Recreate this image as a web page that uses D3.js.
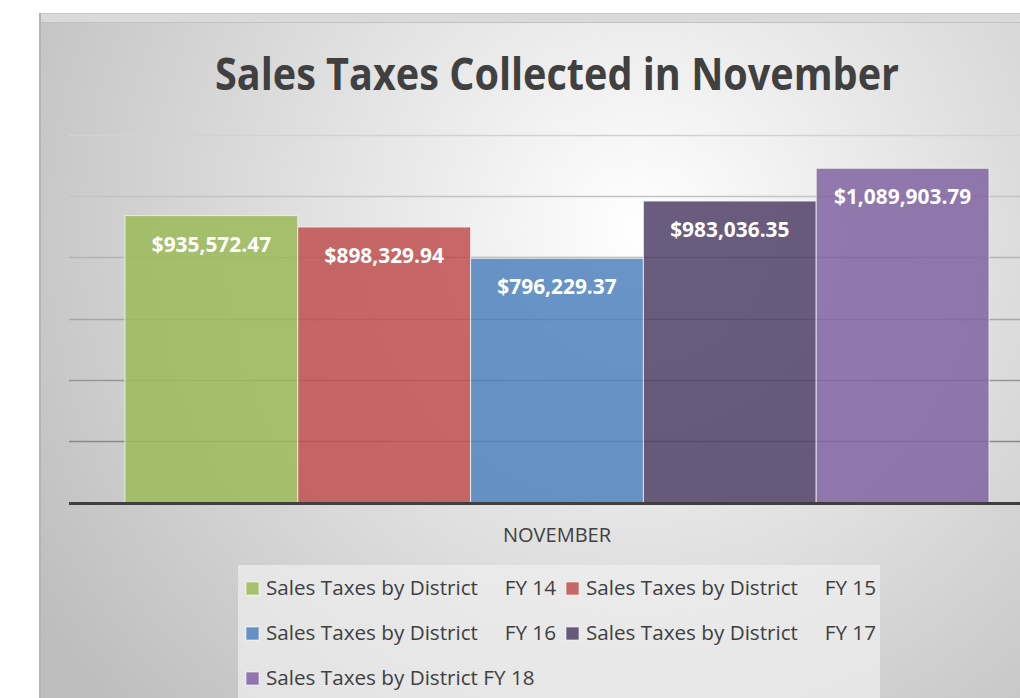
<!DOCTYPE html>
<html>
<head>
<meta charset="utf-8">
<script src="https://cdn.jsdelivr.net/npm/d3@7"></script>
<style>
  html, body { margin: 0; padding: 0; background: #fff; }
  svg { display: block; font-family: "Open Sans", "Noto Sans", sans-serif; }
</style>
</head>
<body>
<svg id="chart" width="1020" height="698"></svg>
<script>
(function() {
  // {{{ data
  var categories = ["NOVEMBER"];
  var seriesNames = [
    "Sales Taxes by District     FY 14",
    "Sales Taxes by District     FY 15",
    "Sales Taxes by District     FY 16",
    "Sales Taxes by District     FY 17",
    "Sales Taxes by District FY 18"
  ];
  var seriesValues = [935572.47, 898329.94, 796229.37, 983036.35, 1089903.79];
  var seriesColors = ["#9bbb59", "#c0504d", "#4f81bd", "#503f66", "#8064a2"];
  var yTicks = [0, 200000, 400000, 600000, 800000, 1000000, 1200000];
  var title = "Sales Taxes Collected in November";
  // }}}

  var W = 1020, H = 698;
  var svg = d3.select("#chart");
  var defs = svg.append("defs");

  // background gradient
  var grad = defs.append("radialGradient")
    .attr("id", "bg")
    .attr("gradientUnits", "userSpaceOnUse")
    .attr("cx", 640).attr("cy", 230).attr("r", 720);
  grad.append("stop").attr("offset", 0).attr("stop-color", "#ffffff");
  grad.append("stop").attr("offset", 1).attr("stop-color", "#bdbdbd");

  // frame
  svg.append("rect")
    .attr("x", 40).attr("y", 13)
    .attr("width", W - 40).attr("height", H - 13)
    .attr("fill", "url(#bg)");
  svg.append("rect")
    .attr("x", 41).attr("y", 13)
    .attr("width", W - 41).attr("height", 9)
    .attr("fill", "#dadada");
  svg.append("line")
    .attr("x1", 41).attr("x2", W).attr("y1", 13.5).attr("y2", 13.5)
    .attr("stroke", "#c6c6c6");
  svg.append("line")
    .attr("x1", 39).attr("x2", W).attr("y1", 22.5).attr("y2", 22.5)
    .attr("stroke", "#c2c2c2");
  svg.append("line")
    .attr("x1", 40).attr("x2", 40).attr("y1", 13).attr("y2", H)
    .attr("stroke", "#b4b4b4").attr("stroke-width", 2);

  // scales
  var plot = { left: 69, right: 1045, top: 134.5, bottom: 502.5 };
  var x0 = d3.scaleBand()
    .domain(categories)
    .range([plot.left, plot.right])
    .paddingInner(0).paddingOuter(0.0648);
  var x1 = d3.scaleBand()
    .domain(d3.range(seriesNames.length))
    .range([0, x0.bandwidth()])
    .padding(0);
  var y = d3.scaleLinear()
    .domain([0, 1200000])
    .range([plot.bottom, plot.top]);

  // gridlines, darker toward the bottom
  var gridColor = d3.scaleLinear()
    .domain([1200000, 200000])
    .range(["#d2d2d2", "#8a8a8a"]);
  svg.append("g").attr("class", "grid")
    .selectAll("line")
    .data(yTicks.filter(function(d) { return d > 0; }))
    .enter().append("line")
      .attr("x1", plot.left).attr("x2", W)
      .attr("y1", function(d) { return Math.round(y(d)) + 0.5; })
      .attr("y2", function(d) { return Math.round(y(d)) + 0.5; })
      .attr("stroke", function(d) { return gridColor(d); })
      .attr("stroke-width", 1.5);

  // bars
  var rows = seriesValues.map(function(v, i) {
    return { name: seriesNames[i], value: v, i: i, cat: categories[0] };
  });

  var bars = svg.append("g").attr("class", "bars");
  bars.selectAll("rect")
    .data(rows)
    .enter().append("rect")
      .attr("x", function(d) { return x0(d.cat) + x1(d.i); })
      .attr("y", function(d) { return y(d.value); })
      .attr("width", x1.bandwidth())
      .attr("height", function(d) { return y(0) - y(d.value); })
      .attr("fill", function(d) { return seriesColors[d.i]; })
      .attr("fill-opacity", 0.85)
      .attr("stroke", "#f4f4f4")
      .attr("stroke-opacity", 0.8)
      .attr("stroke-width", 1);

  // baseline
  svg.append("line")
    .attr("x1", plot.left).attr("x2", W)
    .attr("y1", y(0) + 1).attr("y2", y(0) + 1)
    .attr("stroke", "#3f3f3f").attr("stroke-width", 3);

  // data labels
  var fmt = d3.format("$,.2f");
  bars.selectAll("text")
    .data(rows)
    .enter().append("text")
      .attr("transform", function(d) {
        var cx = x0(d.cat) + x1(d.i) + x1.bandwidth() / 2;
        return "translate(" + cx + "," + (y(d.value) + 36) + ") scale(0.95,1)";
      })
      .attr("text-anchor", "middle")
      .attr("fill", "#ffffff")
      .attr("font-weight", "bold")
      .attr("font-size", "22px")
      .text(function(d) { return fmt(d.value); });

  // category label
  svg.append("text")
    .attr("x", x0(categories[0]) + x0.bandwidth() / 2)
    .attr("y", 542)
    .attr("text-anchor", "middle")
    .attr("fill", "#404040")
    .attr("font-size", "20px")
    .text(categories[0]);

  // title
  svg.append("text")
    .attr("transform", "translate(557,90) scale(0.88,1)")
    .attr("text-anchor", "middle")
    .attr("fill", "#404040")
    .attr("font-weight", "bold")
    .attr("font-size", "45px")
    .text(title);

  // {{{ legend
  svg.append("rect")
    .attr("x", 238).attr("y", 565)
    .attr("width", 642).attr("height", H - 565)
    .attr("fill", "#f0f0f0").attr("fill-opacity", 0.7);

  var legend = svg.append("g").attr("class", "legend");
  var item = legend.selectAll("g")
    .data(seriesNames)
    .enter().append("g")
      .attr("transform", function(d, i) {
        return "translate(" + (246 + (i % 2) * 320) + "," + (582 + Math.floor(i / 2) * 45) + ")";
      });
  item.append("rect")
    .attr("width", 13).attr("height", 13)
    .attr("fill", function(d, i) { return seriesColors[i]; })
    .attr("fill-opacity", 0.85)
    .attr("stroke", "#ffffff").attr("stroke-opacity", 0.6);
  item.append("text")
    .attr("transform", "translate(20,13) scale(1.06,1)")
    .attr("fill", "#404040")
    .attr("font-size", "19.5px")
    .style("white-space", "pre")
    .text(function(d) { return d; });
  // }}}
})();
</script>
</body>
</html>
